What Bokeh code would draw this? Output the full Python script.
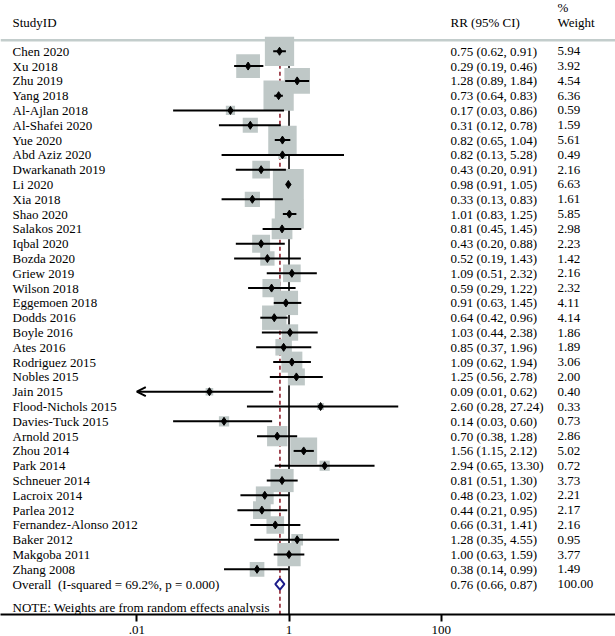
import numpy as np
from bokeh.plotting import figure
from bokeh.models import (Range1d, LinearScale, FixedTicker, CustomJSTickFormatter,
                          ColumnDataSource, Arrow, OpenHead)
from bokeh.core.properties import value
from bokeh.embed import file_html
from bokeh.resources import INLINE

# ---------------- data ----------------
studies = ["Chen 2020", "Xu 2018", "Zhu 2019", "Yang 2018", "Al-Ajlan 2018", "Al-Shafei 2020",
           "Yue 2020", "Abd Aziz 2020", "Dwarkanath 2019", "Li 2020", "Xia 2018", "Shao 2020",
           "Salakos 2021", "Iqbal 2020", "Bozda 2020", "Griew 2019", "Wilson 2018", "Eggemoen 2018",
           "Dodds 2016", "Boyle 2016", "Ates 2016", "Rodriguez 2015", "Nobles 2015", "Jain 2015",
           "Flood-Nichols 2015", "Davies-Tuck 2015", "Arnold 2015", "Zhou 2014", "Park 2014",
           "Schneuer 2014", "Lacroix 2014", "Parlea 2012", "Fernandez-Alonso 2012", "Baker 2012",
           "Makgoba 2011", "Zhang 2008"]
rr = [0.75, 0.29, 1.28, 0.73, 0.17, 0.31, 0.82, 0.82, 0.43, 0.98, 0.33, 1.01,
      0.81, 0.43, 0.52, 1.09, 0.59, 0.91, 0.64, 1.03, 0.85, 1.09, 1.25, 0.09,
      2.60, 0.14, 0.70, 1.56, 2.94, 0.81, 0.48, 0.44, 0.66, 1.28, 1.00, 0.38]
lo = [0.62, 0.19, 0.89, 0.64, 0.03, 0.12, 0.65, 0.13, 0.20, 0.91, 0.13, 0.83,
      0.45, 0.20, 0.19, 0.51, 0.29, 0.63, 0.42, 0.44, 0.37, 0.62, 0.56, 0.01,
      0.28, 0.03, 0.38, 1.15, 0.65, 0.51, 0.23, 0.21, 0.31, 0.35, 0.63, 0.14]
hi = [0.91, 0.46, 1.84, 0.83, 0.86, 0.78, 1.04, 5.28, 0.91, 1.05, 0.83, 1.25,
      1.45, 0.88, 1.43, 2.32, 1.22, 1.45, 0.96, 2.38, 1.96, 1.94, 2.78, 0.62,
      27.24, 0.60, 1.28, 2.12, 13.30, 1.30, 1.02, 0.95, 1.41, 4.55, 1.59, 0.99]
weight = [5.94, 3.92, 4.54, 6.36, 0.59, 1.59, 5.61, 0.49, 2.16, 6.63, 1.61, 5.85,
          2.98, 2.23, 1.42, 2.16, 2.32, 4.11, 4.14, 1.86, 1.89, 3.06, 2.00, 0.40,
          0.33, 0.73, 2.86, 5.02, 0.72, 3.73, 2.21, 2.17, 2.16, 0.95, 3.77, 1.49]
# CIs whose lower end is drawn with an arrowhead (truncated at the axis minimum)
arrow_studies = ["Jain 2015"]

overall_label = "Overall\u00a0 (I-squared = 69.2%, p = 0.000)"
overall_rr, overall_lo, overall_hi, overall_w = 0.76, 0.66, 0.87, 100.00
note = "NOTE: Weights are from random effects analysis"
tick_values = [0.01, 1, 100]
tick_labels = [".01", "1", "100"]

# ---------------- layout ----------------
FONT = value("Liberation Serif")
FS = "13px"
n = len(studies)
rows = list(range(n))
overall_row = n
note_row = n + 1.58

p = figure(width=615, height=636, x_axis_type="log",
           x_range=Range1d(10 ** -3.791, 10 ** 4.290),
           y_range=Range1d(38.05, -3.43),
           output_backend="svg", toolbar_location=None,
           min_border_left=0, min_border_right=0, min_border_top=0, min_border_bottom=0)
p.extra_x_ranges = {"px": Range1d(0, 615)}
p.extra_x_scales = {"px": LinearScale()}
p.yaxis.visible = False
p.xgrid.visible = False
p.ygrid.visible = False
p.outline_line_color = None
p.background_fill_color = "white"
p.border_fill_color = "white"

# header separator line
p.segment(x0=[0], x1=[615], y0=[-0.75], y1=[-0.75], x_range_name="px",
          line_color="#c3cdcc", line_width=2.5)

# null line and overall line
bottom = 38.05
p.segment(x0=[1], x1=[1], y0=[-0.6], y1=[bottom], line_color="black", line_width=1.6)
p.segment(x0=[overall_rr], x1=[overall_rr], y0=[-0.5], y1=[bottom],
          line_color="#9c3b47", line_width=1.8, line_dash="4 3")

# weight boxes
box_size = [12.0 * np.sqrt(w) for w in weight]
src = ColumnDataSource(dict(rr=rr, lo=lo, hi=hi, y=rows, size=box_size,
                            name=studies))
p.scatter(x="rr", y="y", size="size", marker="square", source=src,
          fill_color="#bfc8c7", line_color=None)

# CIs
seg_lo, seg_hi, seg_y = [], [], []
for i, s in enumerate(studies):
    if s in arrow_studies:
        p.add_layout(Arrow(end=OpenHead(size=9, line_width=2, line_color="black"),
                           x_start=hi[i], x_end=lo[i], y_start=i, y_end=i,
                           line_width=2, line_color="black"))
    else:
        seg_lo.append(lo[i]); seg_hi.append(hi[i]); seg_y.append(i)
p.segment(x0=seg_lo, x1=seg_hi, y0=seg_y, y1=seg_y, line_color="black", line_width=2)
p.scatter(x="rr", y="y", size=8, marker="diamond", source=src,
          fill_color="black", line_color="black")

# overall diamond
h = 0.37
p.patch(x=[overall_lo, overall_rr, overall_hi, overall_rr],
        y=[overall_row, overall_row - h, overall_row, overall_row + h],
        fill_color="white", line_color="#1c1c8a", line_width=2)

# texts
rr_text = [f"{r:.2f} ({a:.2f}, {b:.2f})" for r, a, b in zip(rr, lo, hi)]
w_text = [f"{w:.2f}" for w in weight]
all_names = studies + [overall_label]
all_rr = rr_text + [f"{overall_rr:.2f} ({overall_lo:.2f}, {overall_hi:.2f})"]
all_w = w_text + [f"{overall_w:.2f}"]
all_rows = rows + [overall_row]

common = dict(x_range_name="px", text_font=FONT, text_font_size=FS,
              text_baseline="middle", text_color="black")
p.text(x=[12] * len(all_names), y=all_rows, text=all_names, **common)
p.text(x=[450] * len(all_rr), y=all_rows, text=all_rr, **common)
p.text(x=[557] * len(all_w), y=all_rows, text=all_w, **common)
p.text(x=[12], y=[note_row], text=[note], **common)
p.text(x=[12, 450, 557, 557], y=[-1.955, -1.955, -1.955, -2.95],
       text=["StudyID", "RR (95% CI)", "Weight", "%"], **common)

# x axis
ax = p.xaxis[0]
ax.ticker = FixedTicker(ticks=tick_values)
ax.formatter = CustomJSTickFormatter(args=dict(vals=tick_values, labs=tick_labels), code="""
for (let i = 0; i < vals.length; i++) {
  if (Math.abs(Math.log10(tick) - Math.log10(vals[i])) < 1e-6) return labs[i];
}
return '';
""")
ax.minor_tick_line_color = None
ax.major_tick_in = 0
ax.major_tick_out = 7
ax.major_tick_line_width = 2
ax.axis_line_width = 1.8
ax.axis_line_color = "black"
ax.major_tick_line_color = "black"
ax.major_label_standoff = 4
ax.major_label_text_font = "Liberation Serif"
ax.major_label_text_font_size = FS
ax.major_label_text_color = "black"

open("out.html", "w").write(file_html(p, INLINE))
